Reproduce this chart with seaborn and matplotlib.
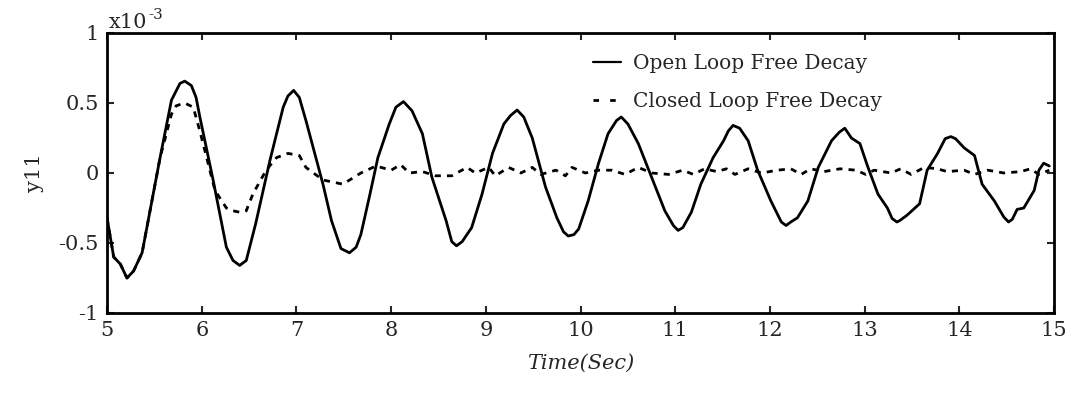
import numpy as np
import pandas as pd
import matplotlib
matplotlib.use("Agg")
import matplotlib.pyplot as plt
from matplotlib.lines import Line2D
import seaborn as sns

# Free-decay response y11 (units of 1e-3), open loop
t_open = [5.00, 5.07, 5.14, 5.21, 5.28, 5.37, 5.56, 5.68, 5.77, 5.82, 5.89, 5.94,
          5.98, 6.12, 6.26, 6.33, 6.40, 6.47, 6.57, 6.72, 6.86, 6.91, 6.97, 7.03,
          7.10, 7.28, 7.37, 7.47, 7.56, 7.63, 7.68, 7.77, 7.86, 7.98, 8.05, 8.13,
          8.22, 8.33, 8.43, 8.58, 8.64, 8.69, 8.75, 8.85, 8.96, 9.07, 9.19, 9.26,
          9.33, 9.40, 9.49, 9.63, 9.75, 9.82, 9.87, 9.93, 9.98, 10.08, 10.19, 10.29,
          10.38, 10.43, 10.50, 10.61, 10.75, 10.89, 10.98, 11.03, 11.08, 11.17,
          11.27, 11.40, 11.51, 11.56, 11.61, 11.68, 11.77, 11.87, 12.01, 12.12,
          12.17, 12.22, 12.29, 12.40, 12.51, 12.65, 12.73, 12.79, 12.86, 12.95,
          13.03, 13.14, 13.24, 13.29, 13.34, 13.37, 13.45, 13.58, 13.66, 13.77,
          13.85, 13.91, 13.96, 14.05, 14.16, 14.24, 14.37, 14.47, 14.52, 14.56,
          14.61, 14.68, 14.79, 14.84, 14.89, 14.95]
y_open = [-0.32, -0.60, -0.65, -0.75, -0.70, -0.57, 0.11, 0.52, 0.64, 0.656, 0.625, 0.54,
          0.40, -0.05, -0.53, -0.625, -0.66, -0.625, -0.36, 0.09, 0.47, 0.55, 0.59, 0.54,
          0.375, -0.08, -0.34, -0.54, -0.57, -0.53, -0.44, -0.17, 0.11, 0.35, 0.47, 0.51,
          0.445, 0.28, -0.03, -0.34, -0.49, -0.52, -0.49, -0.39, -0.15, 0.14, 0.35, 0.41,
          0.45, 0.40, 0.25, -0.10, -0.32, -0.42, -0.45, -0.44, -0.40, -0.20, 0.07, 0.28,
          0.375, 0.40, 0.35, 0.21, -0.03, -0.27, -0.375, -0.41, -0.39, -0.28,
          -0.08, 0.11, 0.23, 0.30, 0.34, 0.32, 0.23, 0.02, -0.20, -0.35,
          -0.375, -0.35, -0.32, -0.20, 0.04, 0.23, 0.29, 0.32, 0.25, 0.21,
          0.05, -0.15, -0.25, -0.325, -0.35, -0.34, -0.30, -0.22, 0.02, 0.14,
          0.245, 0.26, 0.245, 0.18, 0.125, -0.08, -0.20, -0.315, -0.35, -0.33,
          -0.26, -0.25, -0.125, 0.02, 0.07, 0.05]

# Closed loop follows the open loop at first, then settles near zero
t_closed = [5.00, 5.07, 5.14, 5.21, 5.28, 5.37, 5.56, 5.68, 5.73, 5.82, 5.91, 5.98,
            6.14, 6.26, 6.33, 6.40, 6.47, 6.54, 6.68, 6.79, 6.91, 7.03, 7.10, 7.28,
            7.49, 7.68, 7.84, 8.00, 8.10, 8.19, 8.33, 8.47, 8.64, 8.80, 8.89, 9.03,
            9.10, 9.24, 9.37, 9.49, 9.58, 9.74, 9.84, 9.91, 10.05, 10.19, 10.33, 10.47,
            10.61, 10.75, 10.93, 11.08, 11.19, 11.31, 11.44, 11.54, 11.63, 11.77, 11.91,
            12.08, 12.22, 12.33, 12.43, 12.57, 12.74, 12.91, 13.01, 13.10, 13.28, 13.38,
            13.49, 13.63, 13.77, 13.87, 14.05, 14.16, 14.30, 14.47, 14.65, 14.75, 14.84,
            14.95]
y_closed = [-0.32, -0.60, -0.65, -0.75, -0.70, -0.57, 0.11, 0.42, 0.48, 0.50, 0.47, 0.30,
            -0.125, -0.25, -0.27, -0.28, -0.27, -0.15, 0.02, 0.11, 0.14, 0.125, 0.04, -0.05,
            -0.08, 0.00, 0.05, 0.02, 0.06, 0.00, 0.01, -0.02, -0.02, 0.04, 0.00, 0.04,
            -0.02, 0.04, 0.00, 0.04, -0.01, 0.02, -0.02, 0.04, 0.00, 0.02, 0.02, -0.01,
            0.04, 0.00, -0.01, 0.02, -0.01, 0.03, 0.01, 0.03, -0.01, 0.03, 0.00,
            0.02, 0.03, -0.01, 0.03, 0.01, 0.03, 0.02, -0.01, 0.02, 0.00, 0.03,
            -0.01, 0.04, 0.03, 0.01, 0.02, -0.01, 0.02, 0.00, 0.01, 0.03, -0.01,
            0.02]

labels = ["Open Loop Free Decay", "Closed Loop Free Decay"]
x_ticks = [5, 6, 7, 8, 9, 10, 11, 12, 13, 14, 15]
y_ticks = [-1, -0.5, 0, 0.5, 1]
y_tick_labels = ["-1", "-0.5", "0", "0.5", "1"]

df = pd.concat([
    pd.DataFrame({"t": t_open, "y": y_open, "series": labels[0]}),
    pd.DataFrame({"t": t_closed, "y": y_closed, "series": labels[1]}),
])

sns.set_style("ticks")
plt.rcParams["font.family"] = ["DejaVu Serif"]

fig = plt.figure(figsize=(10.77, 4.0), dpi=100)
ax = fig.add_axes([0.0994, 0.2175, 0.8793, 0.70])

sns.lineplot(data=df, x="t", y="y", hue="series", style="series",
             palette=["black", "black"], dashes=[(None, None), (2.2, 2.2)],
             linewidth=2.0, legend=False, ax=ax, sort=False, estimator=None)

ax.set_xlim(5, 15)
ax.set_ylim(-1, 1)
ax.set_xticks(x_ticks)
ax.set_xticklabels([str(v) for v in x_ticks], fontsize=15)
ax.set_yticks(y_ticks)
ax.set_yticklabels(y_tick_labels, fontsize=15)
ax.tick_params(which="both", direction="in", length=5, width=1.5,
               top=True, right=True, pad=6)
for s in ax.spines.values():
    s.set_linewidth(2.0)
    s.set_color("black")

ax.set_xlabel("Time(Sec)", fontsize=15, style="italic", labelpad=10)
ax.set_ylabel("y11", fontsize=15, labelpad=10)

# Axis multiplier above the top-left corner: "x10" with a raised "-3"
base = ax.annotate("x10", xy=(0.0, 1.0), xycoords="axes fraction",
                   xytext=(1, 1), textcoords="offset points",
                   fontsize=15, ha="left", va="bottom")
ax.annotate("-3", xy=(1.0, 0.5), xycoords=base,
            xytext=(1, 0), textcoords="offset points",
            fontsize=11, ha="left", va="bottom")

handles = [Line2D([], [], color="black", lw=1.6),
           Line2D([], [], color="black", lw=2.0, dashes=(2, 4))]
ax.legend(handles, labels, loc="upper left", bbox_to_anchor=(0.494, 0.99),
          frameon=False, fontsize=14.5, handlelength=1.4, handletextpad=0.6,
          labelspacing=0.95)

fig.savefig("out.png", dpi=100)
